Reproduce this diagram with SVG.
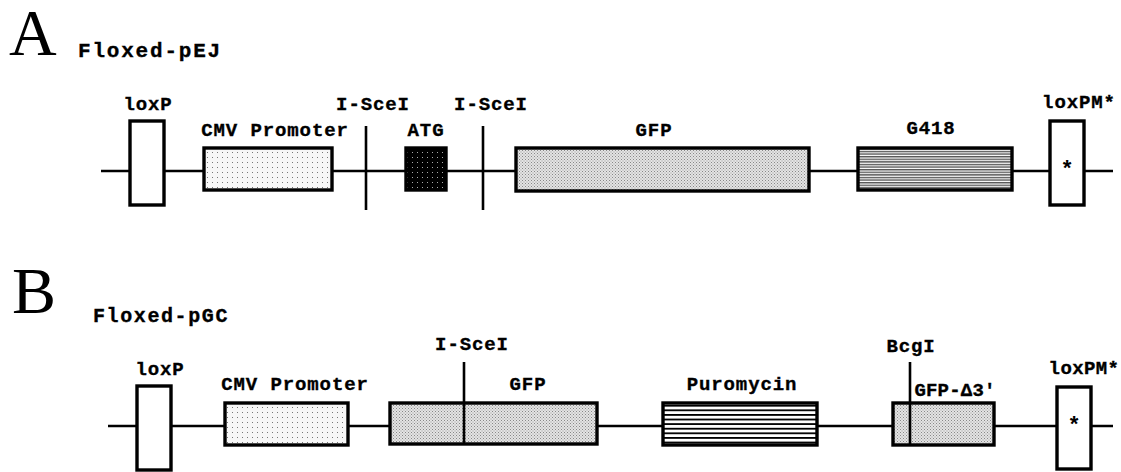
<svg xmlns="http://www.w3.org/2000/svg" width="1121" height="472" viewBox="0 0 1121 472">
<defs>
<pattern id="pCMV" width="5" height="5" patternUnits="userSpaceOnUse">
<rect width="5" height="5" fill="#f7f7f7"/>
<rect x="2" y="2" width="1" height="1" fill="#777"/>
</pattern>
<pattern id="pATG" width="5" height="5" patternUnits="userSpaceOnUse">
<rect width="5" height="5" fill="#000"/>
<rect x="2" y="2" width="1" height="1" fill="#aaa"/>
</pattern>
<pattern id="pGFP" width="3" height="3" patternUnits="userSpaceOnUse">
<rect width="3" height="3" fill="#e4e4e4"/>
<rect x="0" y="0" width="1" height="1" fill="#888"/>
<rect x="1.5" y="1.5" width="1" height="1" fill="#999"/>
</pattern>
<pattern id="pG418" width="3" height="2.6" patternUnits="userSpaceOnUse">
<rect width="3" height="2.6" fill="#fff"/>
<rect y="0" width="3" height="1.4" fill="#555"/>
</pattern>
<pattern id="pPuro" width="4" height="4.6" patternUnits="userSpaceOnUse">
<rect width="4" height="4.6" fill="#fff"/>
<rect y="0" width="4" height="1.8" fill="#000"/>
</pattern>
</defs>
<style>
.lbl{font-family:"Liberation Mono","Courier New",monospace;font-weight:bold;font-size:19px;letter-spacing:0.9px;fill:#000;stroke:#000;stroke-width:0.35px}
.ttl{font-family:"Liberation Mono","Courier New",monospace;font-weight:bold;font-size:20px;letter-spacing:1.6px;fill:#000;stroke:#000;stroke-width:0.35px}
.big{font-family:"Liberation Serif","Times New Roman",serif;font-size:66px;fill:#000}
.box{stroke:#000;stroke-width:3.4}
.wire{stroke:#000;stroke-width:2.6;fill:none}
.site{stroke:#000;stroke-width:2.6}
.star{font-family:"Liberation Mono","Courier New",monospace;font-weight:bold;font-size:22px;fill:#000}
</style>
<rect width="1121" height="472" fill="#fff"/>

<text class="big" x="9" y="55">A</text>
<text class="ttl" x="78" y="57" style="font-size:21px;letter-spacing:1.8px">Floxed-pEJ</text>
<text class="big" x="12" y="313">B</text>
<text class="ttl" x="93" y="322">Floxed-pGC</text>

<g id="connectors">
<line class="wire" x1="101" y1="171" x2="1113" y2="171"/>
<line class="wire" x1="108" y1="426" x2="1113" y2="426"/>
</g>

<g id="A-loxP">
<rect class="box" x="130" y="121" width="34" height="84" fill="#fff"/>
<text class="lbl" x="148" y="110" text-anchor="middle">loxP</text>
</g>
<g id="A-CMV">
<rect class="box" x="204" y="148" width="128" height="42" fill="url(#pCMV)"/>
<text class="lbl" x="275" y="136" text-anchor="middle">CMV Promoter</text>
</g>
<g id="A-ISceI-1">
<line class="site" x1="366" y1="126" x2="366" y2="210"/>
<text class="lbl" x="373" y="110" text-anchor="middle">I-SceI</text>
</g>
<g id="A-ATG">
<rect class="box" x="406" y="148" width="40" height="42" fill="url(#pATG)"/>
<text class="lbl" x="426" y="136" text-anchor="middle">ATG</text>
</g>
<g id="A-ISceI-2">
<line class="site" x1="483" y1="126" x2="483" y2="210"/>
<text class="lbl" x="491" y="110" text-anchor="middle">I-SceI</text>
</g>
<g id="A-GFP">
<rect class="box" x="516" y="148" width="293" height="43" fill="url(#pGFP)"/>
<text class="lbl" x="654" y="136" text-anchor="middle">GFP</text>
</g>
<g id="A-G418">
<rect class="box" x="858" y="148" width="154" height="42" fill="url(#pG418)"/>
<text class="lbl" x="931" y="134" text-anchor="middle">G418</text>
</g>
<g id="A-loxPM">
<rect class="box" x="1050" y="121" width="34" height="84" fill="#fff"/>
<text class="star" x="1067" y="176" text-anchor="middle">*</text>
<text class="lbl" x="1079" y="108" text-anchor="middle">loxPM*</text>
</g>

<g id="B-loxP">
<rect class="box" x="137" y="386" width="34" height="84" fill="#fff"/>
<text class="lbl" x="160" y="375" text-anchor="middle">loxP</text>
</g>
<g id="B-CMV">
<rect class="box" x="225" y="403" width="123" height="42" fill="url(#pCMV)"/>
<text class="lbl" x="295" y="390" text-anchor="middle">CMV Promoter</text>
</g>
<g id="B-GFP">
<rect class="box" x="390" y="403" width="207" height="41" fill="url(#pGFP)"/>
<line class="site" x1="464" y1="362" x2="464" y2="444"/>
<text class="lbl" x="472" y="350" text-anchor="middle">I-SceI</text>
<text class="lbl" x="528" y="390" text-anchor="middle">GFP</text>
</g>
<g id="B-Puro">
<rect class="box" x="663" y="403" width="154" height="42" fill="url(#pPuro)"/>
<text class="lbl" x="742" y="390" text-anchor="middle">Puromycin</text>
</g>
<g id="B-GFPd3">
<rect class="box" x="893" y="403" width="101" height="42" fill="url(#pGFP)"/>
<line class="site" x1="910" y1="362" x2="910" y2="445"/>
<text class="lbl" x="911" y="352" text-anchor="middle">BcgI</text>
<text class="lbl" x="955" y="396" text-anchor="middle" style="letter-spacing:0.2px">GFP-Δ3′</text>
</g>
<g id="B-loxPM">
<rect class="box" x="1057" y="387" width="34" height="82" fill="#fff"/>
<text class="star" x="1074" y="432" text-anchor="middle">*</text>
<text class="lbl" x="1084" y="374" text-anchor="middle" style="letter-spacing:0.4px">loxPM*</text>
</g>
</svg>
